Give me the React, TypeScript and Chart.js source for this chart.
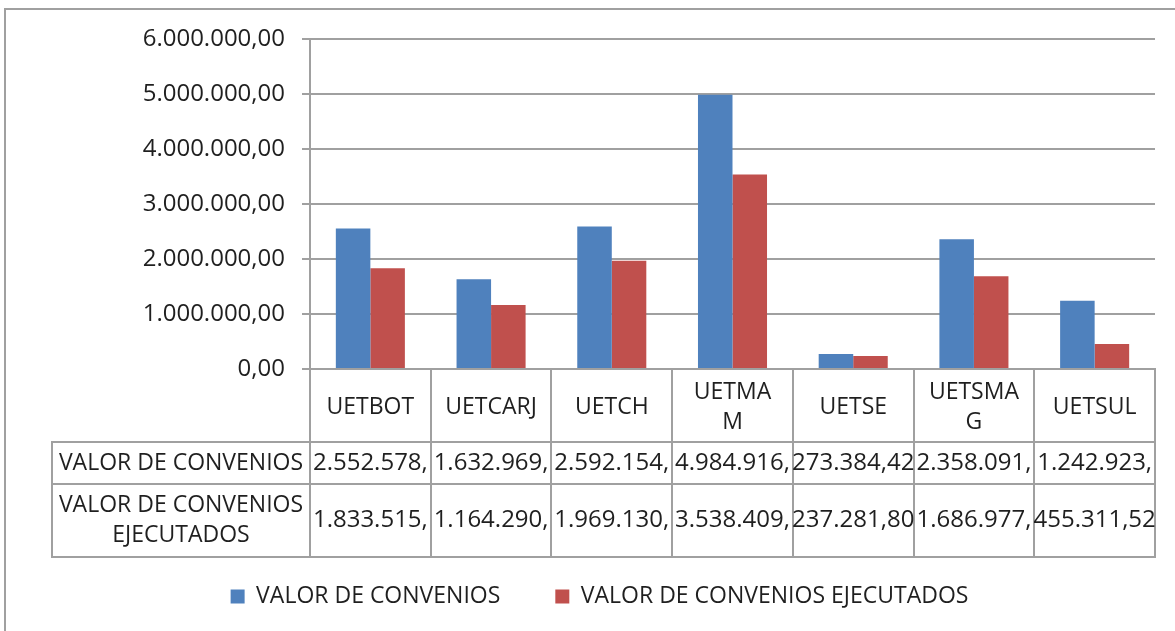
import React, { useEffect, useRef } from "react";
import { Chart, registerables } from "chart.js";

Chart.register(...registerables);

// ---------- data ----------
const categories: (string | string[])[] = [
  "UETBOT",
  "UETCARJ",
  "UETCH",
  ["UETMA", "M"],
  "UETSE",
  ["UETSMA", "G"],
  "UETSUL",
];
const seriesNames = ["VALOR DE CONVENIOS", "VALOR DE CONVENIOS EJECUTADOS"];
const tableRowLabels = [["VALOR DE CONVENIOS"], ["VALOR DE CONVENIOS", "EJECUTADOS"]];
const valorConvenios = [2552578, 1632969, 2592154, 4984916, 273384.42, 2358091, 1242923];
const valorEjecutados = [1833515, 1164290, 1969130, 3538409, 237281.8, 1686977, 455311.52];
const valorConveniosText = ["2.552.578,", "1.632.969,", "2.592.154,", "4.984.916,", "273.384,42", "2.358.091,", "1.242.923,"];
const valorEjecutadosText = ["1.833.515,", "1.164.290,", "1.969.130,", "3.538.409,", "237.281,80", "1.686.977,", "455.311,52"];
const yMin = 0;
const yMax = 6000000;
const yStep = 1000000;

// ---------- styles ----------
const BLUE = "#4F81BD";
const RED = "#C0504D";
const GRID = "#A0A0A0";
const TEXT = "#1f1f1f";
const FONT = '"Open Sans", "Noto Sans", sans-serif';

function fmt(v: number): string {
  const s = Math.round(v).toString().replace(/\B(?=(\d{3})+(?!\d))/g, ".");
  return s + ",00";
}

const framePlugin = {
  id: "frame",
  beforeDraw(chart: any) {
    const { ctx } = chart;
    ctx.save();
    ctx.fillStyle = "#ffffff";
    ctx.fillRect(0, 0, chart.width, chart.height);
    ctx.strokeStyle = GRID;
    ctx.lineWidth = 2;
    ctx.beginPath();
    ctx.moveTo(5, chart.height + 2);
    ctx.lineTo(5, 9);
    ctx.lineTo(chart.width + 2, 9);
    ctx.stroke();
    ctx.restore();
  },
};

const tablePlugin = {
  id: "dataTable",
  afterDraw(chart: any) {
    const { ctx, chartArea } = chart;
    const xs = chart.scales.x;
    const labels = xs.getLabels();
    const n = labels.length;
    const half = (xs.getPixelForValue(1) - xs.getPixelForValue(0)) / 2;
    const centers: number[] = [];
    for (let i = 0; i < n; i++) centers.push(xs.getPixelForValue(i));
    const edges = centers.map((c) => c - half);
    edges.push(centers[n - 1] + half);

    const top = chartArea.bottom;
    const hdrB = top + 73;
    const r1B = top + 115;
    const r2B = top + 188;
    const tableLeft = 52;
    const right = edges[n];

    ctx.save();
    ctx.strokeStyle = GRID;
    ctx.lineWidth = 2;
    ctx.beginPath();
    edges.forEach((e) => {
      const xx = Math.round(e);
      ctx.moveTo(xx, top);
      ctx.lineTo(xx, r2B);
    });
    ctx.moveTo(tableLeft, hdrB);
    ctx.lineTo(tableLeft, r2B);
    [hdrB, r1B, r2B].forEach((yy) => {
      ctx.moveTo(tableLeft - 1, yy);
      ctx.lineTo(right + 1, yy);
    });
    ctx.stroke();

    ctx.fillStyle = TEXT;
    ctx.textAlign = "center";
    ctx.textBaseline = "middle";
    const lh = 30;

    // header labels
    ctx.font = `23px ${FONT}`;
    labels.forEach((lab: any, i: number) => {
      const lines = Array.isArray(lab) ? lab : [lab];
      const cy = (top + hdrB) / 2 + 2;
      lines.forEach((ln: string, k: number) => {
        ctx.fillText(ln, centers[i], cy + (k - (lines.length - 1) / 2) * lh);
      });
    });

    // row labels
    const labelCx = (tableLeft + edges[0]) / 2;
    const rowCenters = [(hdrB + r1B) / 2, (r1B + r2B) / 2];
    tableRowLabels.forEach((lines, r) => {
      lines.forEach((ln, k) => {
        ctx.fillText(ln, labelCx, rowCenters[r] + (k - (lines.length - 1) / 2) * lh);
      });
    });

    // values
    ctx.font = `24px ${FONT}`;
    [valorConveniosText, valorEjecutadosText].forEach((row, r) => {
      row.forEach((t, i) => {
        ctx.fillText(t, centers[i], rowCenters[r]);
      });
    });
    ctx.restore();
  },
};

export default function App() {
  const ref = useRef<HTMLCanvasElement | null>(null);

  useEffect(() => {
    if (!ref.current) return;
    const chart = new Chart(ref.current, {
      type: "bar",
      data: {
        labels: categories as any,
        datasets: [
          {
            label: seriesNames[0],
            data: valorConvenios,
            backgroundColor: BLUE,
            borderWidth: 0,
            categoryPercentage: 0.572,
            barPercentage: 1,
          },
          {
            label: seriesNames[1],
            data: valorEjecutados,
            backgroundColor: RED,
            borderWidth: 0,
            categoryPercentage: 0.572,
            barPercentage: 1,
          },
        ],
      },
      options: {
        animation: false,
        responsive: false,
        devicePixelRatio: 1,
        layout: { padding: { left: 44, right: 20, top: 39, bottom: 13 } },
        plugins: {
          tooltip: { enabled: false },
          legend: {
            position: "bottom",
            labels: {
              boxWidth: 14,
              boxHeight: 14,
              padding: 55,
              color: TEXT,
              font: { family: FONT, size: 23 },
            },
          },
        },
        scales: {
          x: {
            type: "category",
            offset: true,
            grid: { display: false },
            border: { display: true, color: GRID, width: 2 },
            ticks: { display: false },
            afterFit(s: any) {
              s.height = 161;
            },
          },
          y: {
            min: yMin,
            max: yMax,
            ticks: {
              stepSize: yStep,
              padding: 17,
              color: TEXT,
              font: { family: FONT, size: 24 },
              callback: (v: any) => fmt(Number(v)),
            },
            grid: { color: GRID, lineWidth: 2, tickLength: 8, drawTicks: true },
            border: { display: true, color: GRID, width: 2 },
            afterFit(s: any) {
              s.width = 266;
            },
          },
        },
      },
      plugins: [framePlugin, tablePlugin],
    } as any);
    return () => chart.destroy();
  }, []);

  return (
    <div style={{ position: "fixed", left: 0, top: 0, width: 1175, height: 631, background: "#fff" }}>
      <canvas ref={ref} width={1175} height={631} style={{ display: "block" }} />
    </div>
  );
}
